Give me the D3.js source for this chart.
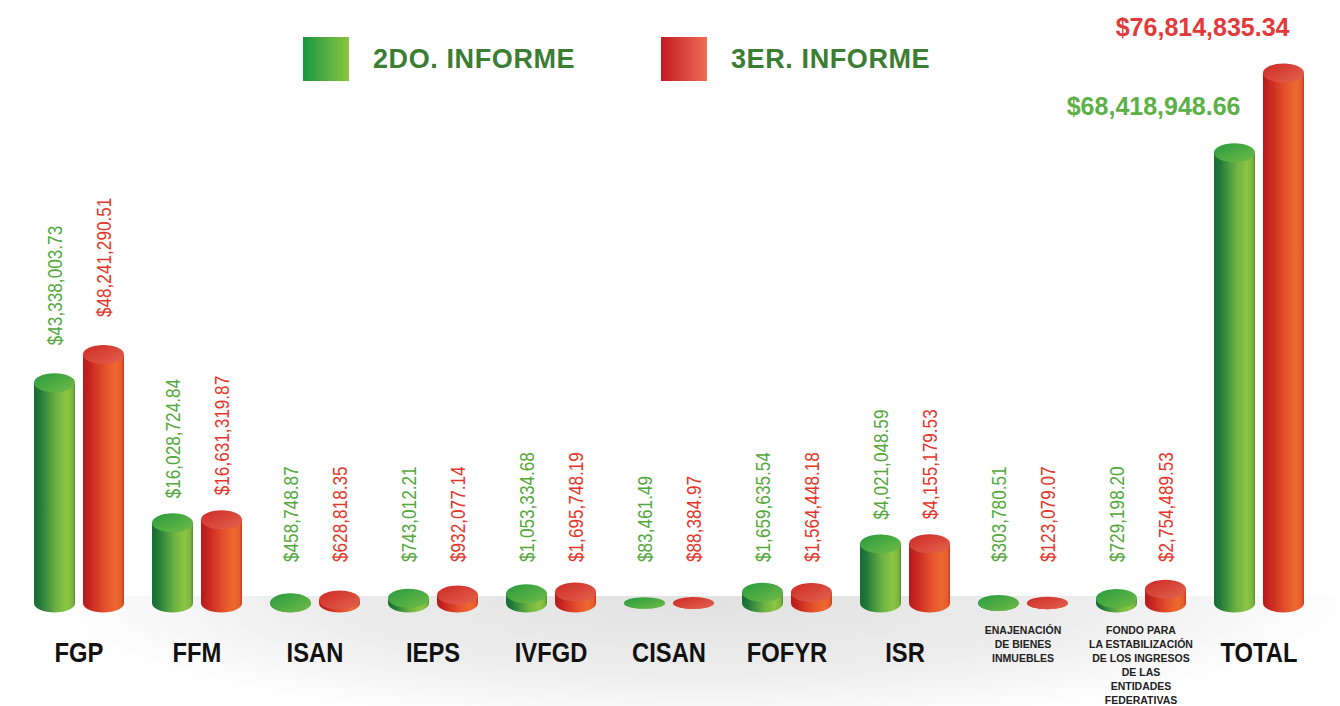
<!DOCTYPE html>
<html>
<head>
<meta charset="utf-8">
<script src="https://cdn.jsdelivr.net/npm/d3@7"></script>
<style>
  html, body { margin: 0; padding: 0; background: #fff; }
  svg { display: block; font-family: "Liberation Sans", Arial, Helvetica, sans-serif; }
</style>
</head>
<body>
<svg width="1340" height="706"></svg>
<script>
// categories and the label printed under each pair
var categories = ["FGP", "FFM", "ISAN", "IEPS", "IVFGD", "CISAN", "FOFYR", "ISR", "ENAJENACION", "FONDO", "TOTAL"];
var tickLabels = [
  ["FGP"], ["FFM"], ["ISAN"], ["IEPS"], ["IVFGD"], ["CISAN"], ["FOFYR"], ["ISR"],
  ["ENAJENACIÓN", "DE BIENES", "INMUEBLES"],
  ["FONDO PARA", "LA ESTABILIZACIÓN", "DE LOS INGRESOS", "DE LAS", "ENTIDADES", "FEDERATIVAS"],
  ["TOTAL"]
];
var series = ["2DO. INFORME", "3ER. INFORME"];
var informe2 = [43338003.73, 16028724.84, 458748.87, 743012.21, 1053334.68, 83461.49, 1659635.54, 4021048.59, 303780.51, 729198.20, 68418948.66];
var informe3 = [48241290.51, 16631319.87, 628818.35, 932077.14, 1695748.19, 88384.97, 1564448.18, 4155179.53, 123079.07, 2754489.53, 76814835.34];

var svg = d3.select("svg"), width = +svg.attr("width"), height = +svg.attr("height");
var baseY = 603;

// x: one point per category, the two series side by side inside it
var x = d3.scalePoint().domain(categories).range([79, 1259]);
var xs = d3.scaleBand().domain(series).range([-49, 49]);
var rx = 20.5;

// the original is not drawn to scale: piecewise scale that follows it
var y = d3.scaleLinear()
  .domain([0, 4.5e5, 1e6, 2.8e6, 4e6, 16e6, 43.3e6, 48.2e6, 68.4e6, 76.8e6])
  .range([baseY, baseY, baseY - 9, baseY - 14, baseY - 59, baseY - 80, baseY - 220, baseY - 248, baseY - 450, baseY - 530])
  .clamp(true);
// tiny values get a flatter disc
var ryScale = d3.scaleLinear().domain([0, 4.5e5]).range([5, 9.5]).clamp(true);

var fmt = d3.format("$,.2f");

var rows = [];
categories.forEach(function(c, i) {
  rows.push({cat: c, s: 0, v: informe2[i]});
  rows.push({cat: c, s: 1, v: informe3[i]});
});

// gradients
var defs = svg.append("defs");
function linGrad(id, stops, x1, y1, x2, y2) {
  var g = defs.append("linearGradient").attr("id", id)
    .attr("x1", x1).attr("y1", y1).attr("x2", x2).attr("y2", y2);
  stops.forEach(function(s) { g.append("stop").attr("offset", s[0]).attr("stop-color", s[1]); });
}
linGrad("bodyG", [["0%", "#1b6a33"], ["15%", "#21793a"], ["55%", "#6db343"], ["80%", "#8cc542"], ["94%", "#7cb63d"], ["100%", "#4f9136"]], "0", "0", "1", "0");
linGrad("bodyR", [["0%", "#b01c1d"], ["15%", "#c6241f"], ["55%", "#e4522b"], ["80%", "#ee6a31"], ["94%", "#e65b2c"], ["100%", "#c53a20"]], "0", "0", "1", "0");
linGrad("topG", [["0%", "#279a3f"], ["100%", "#72bc47"]], "0", "0", "1", "1");
linGrad("topR", [["0%", "#cc2a25"], ["100%", "#e4644f"]], "0", "0", "1", "1");
linGrad("legG", [["0%", "#17963f"], ["100%", "#8dc63f"]], "0", "0", "1", "0");
linGrad("legR", [["0%", "#c21a23"], ["100%", "#f06d55"]], "0", "0", "1", "0");

var floor = defs.append("radialGradient").attr("id", "floor")
  .attr("gradientUnits", "userSpaceOnUse")
  .attr("cx", 700).attr("cy", 596).attr("r", 660)
  .attr("gradientTransform", "translate(0,596) scale(1,0.2) translate(0,-596)");
floor.append("stop").attr("offset", "0%").attr("stop-color", "#e1e1e1");
floor.append("stop").attr("offset", "60%").attr("stop-color", "#ededed");
floor.append("stop").attr("offset", "100%").attr("stop-color", "#ffffff");

svg.append("rect").attr("width", width).attr("height", height).attr("fill", "#fff");
svg.append("rect").attr("x", 0).attr("y", 596).attr("width", width).attr("height", height - 596)
  .attr("fill", "url(#floor)");

// legend
var legend = svg.append("g").selectAll("g").data(series).enter().append("g")
  .attr("transform", function(d, i) { return "translate(" + (303 + i * 358) + ",37)"; });
legend.append("rect").attr("width", 46).attr("height", 44)
  .attr("fill", function(d, i) { return i === 0 ? "url(#legG)" : "url(#legR)"; });
legend.append("text").attr("x", 70).attr("y", 31)
  .attr("font-size", "27px").attr("font-weight", "bold").attr("letter-spacing", "0.6px")
  .attr("fill", "#3a7d33").text(function(d) { return d; });

// cylinders
function cx(d) { return x(d.cat) + xs(series[d.s]) + xs.bandwidth() / 2; }

var bars = svg.append("g").selectAll("g").data(rows).enter().append("g");

bars.append("path")
  .attr("fill", function(d) { return d.s === 0 ? "url(#bodyG)" : "url(#bodyR)"; })
  .attr("d", function(d) {
    var c = cx(d), ry = ryScale(d.v), t = y(d.v);
    return "M" + (c - rx) + "," + t + "L" + (c - rx) + "," + baseY +
      "A" + rx + "," + ry + " 0 0 0 " + (c + rx) + "," + baseY +
      "L" + (c + rx) + "," + t + "Z";
  });

bars.append("ellipse")
  .attr("cx", cx).attr("cy", function(d) { return y(d.v); })
  .attr("rx", rx).attr("ry", function(d) { return ryScale(d.v); })
  .attr("fill", function(d) { return d.s === 0 ? "url(#topG)" : "url(#topR)"; });

// rotated value labels (all but TOTAL)
var rotRows = rows.filter(function(d) { return d.cat !== "TOTAL"; });
svg.append("g").selectAll("g").data(rotRows).enter().append("g")
  .attr("transform", function(d) {
    var top = y(d.v) - ryScale(d.v);
    var ly = Math.min(562, top - (top < 400 ? 28 : 15));
    return "translate(" + cx(d) + "," + ly + ") rotate(-90) scale(0.86,1)";
  })
  .append("text")
  .attr("dy", "0.35em")
  .attr("font-size", "20px")
  .attr("fill", function(d) { return d.s === 0 ? "#55a83c" : "#e4372b"; })
  .text(function(d) { return fmt(d.v); });

// horizontal labels above TOTAL
var totRows = rows.filter(function(d) { return d.cat === "TOTAL"; });
svg.append("g").selectAll("text").data(totRows).enter().append("text")
  .attr("x", function(d) { return cx(d) + 6; })
  .attr("y", function(d) { return y(d.v) - ryScale(d.v) - 28; })
  .attr("text-anchor", "end")
  .attr("font-size", "25px").attr("font-weight", "bold")
  .attr("fill", function(d) { return d.s === 0 ? "#5bb146" : "#e2393a"; })
  .text(function(d) { return fmt(d.v); });

// category labels
var ticks = svg.append("g").selectAll("g").data(categories).enter().append("g")
  .attr("transform", function(d) { return "translate(" + x(d) + ",0)"; });

ticks.each(function(d, i) {
  var lines = tickLabels[i];
  var g = d3.select(this);
  if (lines.length === 1) {
    g.append("g").attr("transform", "translate(0,662) scale(0.88,1)")
      .append("text").attr("text-anchor", "middle")
      .attr("font-size", "27px").attr("font-weight", "bold").attr("fill", "#111")
      .text(lines[0]);
  } else {
    g.selectAll("text").data(lines).enter().append("text")
      .attr("text-anchor", "middle")
      .attr("y", function(l, j) { return 634 + j * 14; })
      .attr("font-size", "10.5px").attr("font-weight", "bold").attr("fill", "#222")
      .text(function(l) { return l; });
  }
});
</script>
</body>
</html>
